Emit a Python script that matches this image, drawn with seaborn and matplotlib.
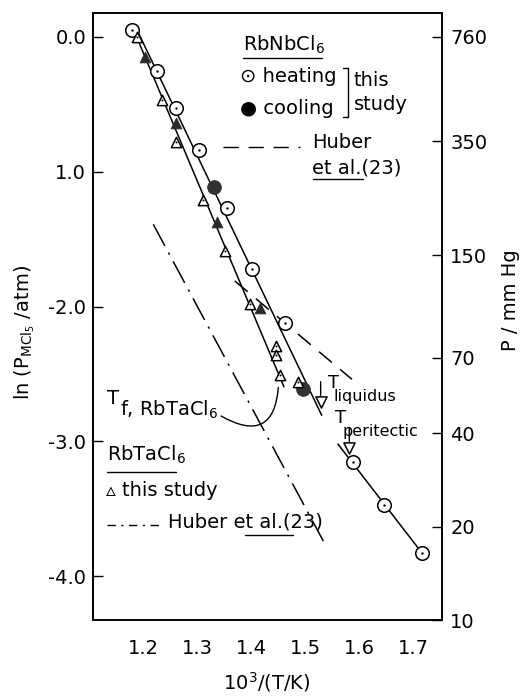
import matplotlib
matplotlib.use("Agg")
import matplotlib.pyplot as plt
from matplotlib.lines import Line2D
import numpy as np
import pandas as pd
import seaborn as sns

# RbNbCl6 heating (open circles)
nb_heat_x = [1.180, 1.225, 1.262, 1.304, 1.356, 1.402, 1.463, 1.588, 1.647, 1.717]
nb_heat_y = [0.05, -0.25, -0.53, -0.84, -1.27, -1.72, -2.12, -3.15, -3.47, -3.83]
# RbNbCl6 cooling (filled circles)
nb_cool_x = [1.331, 1.497]
nb_cool_y = [-1.11, -2.61]
# RbTaCl6 this study (open triangles)
ta_x = [1.189, 1.236, 1.261, 1.312, 1.352, 1.398, 1.446, 1.446, 1.454, 1.487]
ta_y = [0.00, -0.47, -0.78, -1.21, -1.59, -1.98, -2.29, -2.36, -2.51, -2.56]
# RbTaCl6 filled triangles
ta_fill_x = [1.204, 1.261, 1.337, 1.417]
ta_fill_y = [-0.15, -0.64, -1.37, -2.01]
# T liquidus / T peritectic markers
tmark_x = [1.529, 1.582]
tmark_y = [-2.71, -3.05]
tmark_lbl = ['liquidus', 'peritectic']

# drawn lines (end points)
nb_fit_x, nb_fit_y = [1.187, 1.531], [0.067, -2.807]
nb_low_x, nb_low_y = [1.561, 1.717], [-3.02, -3.83]
ta_fit_x, ta_fit_y = [1.185, 1.461], [0.03, -2.595]
huber_nb_x, huber_nb_y = [1.370, 1.587], [-1.81, -2.54]
huber_ta_x, huber_ta_y = [1.219, 1.534], [-1.39, -3.74]

xticks = [1.2, 1.3, 1.4, 1.5, 1.6, 1.7]
yticks = [0, -1, -2, -3, -4]
ytick_lbl = ['0.0', '1.0', '-2.0', '-3.0', '-4.0']
p_mmhg = [760, 350, 150, 70, 40, 20, 10]

W, H = 527, 698
sns.set_theme(style="white")
plt.rcParams['font.family'] = ['DejaVu Sans']
plt.rcParams['mathtext.default'] = 'regular'
for k in ['text.color', 'axes.labelcolor', 'xtick.color', 'ytick.color', 'axes.edgecolor']:
    plt.rcParams[k] = 'black'
FS = 14

fig = plt.figure(figsize=(W / 100, H / 100), dpi=100)
ax = fig.add_axes([93 / W, 1 - 620 / H, (442 - 93) / W, (620 - 13) / H])


def fp(px, py):
    # pixel position -> figure fraction
    return px / W, 1 - py / H


def ftext(px, py, s, **kw):
    x, y = fp(px, py)
    kw.setdefault('fontsize', FS)
    kw.setdefault('va', 'center')
    fig.text(x, y, s, color='black', **kw)


def fline(pxs, pys, **kw):
    xs = [p / W for p in pxs]
    ys = [1 - p / H for p in pys]
    fig.add_artist(Line2D(xs, ys, color='black', lw=1.0, **kw))


lk = dict(color='black', lw=1.1)
sns.lineplot(x=nb_fit_x, y=nb_fit_y, ax=ax, **lk)
sns.lineplot(x=nb_low_x, y=nb_low_y, ax=ax, **lk)
sns.lineplot(x=ta_fit_x, y=ta_fit_y, ax=ax, **lk)
ax.plot(huber_nb_x, huber_nb_y, color='black', lw=1.1, dashes=(11, 7))
ax.plot(huber_ta_x, huber_ta_y, color='black', lw=1.1, dashes=(16, 5, 1.5, 5))

heat = pd.DataFrame({'x': nb_heat_x, 'y': nb_heat_y})
sns.scatterplot(data=heat, x='x', y='y', ax=ax, marker='o', s=95,
                facecolor='white', edgecolor='black', linewidth=1.1, zorder=5)
sns.scatterplot(data=heat, x='x', y='y', ax=ax, marker='o', s=3,
                color='black', linewidth=0, zorder=6)
sns.scatterplot(x=nb_cool_x, y=nb_cool_y, ax=ax, marker='o', s=95,
                color='#333333', edgecolor='#333333', zorder=5)
ta = pd.DataFrame({'x': ta_x, 'y': ta_y})
sns.scatterplot(data=ta, x='x', y='y', ax=ax, marker='^', s=55,
                facecolor='white', edgecolor='black', linewidth=1.1, zorder=5)
sns.scatterplot(data=ta, x='x', y='y', ax=ax, marker='o', s=2,
                color='black', linewidth=0, zorder=6)
sns.scatterplot(x=ta_fill_x, y=ta_fill_y, ax=ax, marker='^', s=60,
                color='#2a2a2a', edgecolor='#2a2a2a', zorder=5)
sns.scatterplot(x=tmark_x, y=tmark_y, ax=ax, marker='v', s=65,
                facecolor='white', edgecolor='black', linewidth=1.1, zorder=5)

# offsets (points) of "T" and of its subscript word for each marker
t_off = [(5, 14), (-10, 22)]
w_off = [(9, 4), (-5, 12)]
for x, y, lbl, to, wo in zip(tmark_x, tmark_y, tmark_lbl, t_off, w_off):
    ax.annotate('', xy=(x, y + 0.05), xytext=(0, 10), textcoords='offset points',
                arrowprops=dict(arrowstyle='-', color='black', lw=1.0,
                                shrinkA=0, shrinkB=0))
    ax.annotate('T', xy=(x, y), xytext=to, textcoords='offset points',
                fontsize=FS - 1, va='center', ha='left')
    ax.annotate(lbl, xy=(x, y), xytext=wo, textcoords='offset points',
                fontsize=FS - 2.5, va='center', ha='left')

# T_f,RbTaCl6 with curved pointer to the triangle
ftext(107, 398, 'T', ha='left')
ftext(120, 410, 'f, RbTaCl$_6$', ha='left')
ax.annotate('', xy=(ta_x[8] - 0.003, ta_y[8] - 0.07),
            xytext=fp(221, 416), textcoords='figure fraction',
            arrowprops=dict(arrowstyle='-', color='black', lw=1.0,
                            connectionstyle='arc3,rad=0.8', shrinkA=0, shrinkB=2))

ax.set_xlim(1.1074, 1.7537)
ax.set_ylim(-4.325, 0.1775)
ax.set_xticks(xticks)
ax.set_xticklabels([f'{v:.1f}' for v in xticks])
ax.set_yticks(yticks)
ax.set_yticklabels(ytick_lbl)
ax.tick_params(direction='in', length=7, width=1.0, labelsize=FS, color='black',
               labelcolor='black')
ax.tick_params(axis='x', pad=14)
ax.tick_params(axis='y', pad=5)
for sp in ax.spines.values():
    sp.set_color('black')
    sp.set_linewidth(1.1)
ax.set_xlabel('')
ax.set_ylabel('')

ax2 = ax.twinx()
ax2.set_ylim(ax.get_ylim())
ax2.set_yticks(np.log(np.array(p_mmhg) / 760.0))
ax2.set_yticklabels([str(p) for p in p_mmhg])
ax2.tick_params(direction='in', length=7, width=1.0, labelsize=FS, pad=6,
                color='black', labelcolor='black')
ax2.grid(False)
ax.grid(False)

# axis titles
ftext(267, 682, '10$^3$/(T/K)', ha='center')
x, y = fp(25, 332)
fig.text(x, y, 'ln (P$_{MCl_5}$ /atm)', rotation=90, ha='center', va='center',
         fontsize=FS, color='black')
x, y = fp(510, 300)
fig.text(x, y, 'P / mm Hg', rotation=90, ha='center', va='center',
         fontsize=FS, color='black')

# upper key
ftext(243, 45, 'RbNbCl$_6$', ha='left')
fline([243, 322], [58, 58])
ftext(240, 76, '\u2299 heating', ha='left')
ftext(240, 108, '\u25cf cooling', ha='left')
fline([343, 348, 348, 343], [68, 68, 117, 117])
ftext(354, 80, 'this', ha='left')
ftext(354, 105, 'study', ha='left')
fline([223, 300], [147, 147], dashes=(11, 7))
ftext(312, 143, 'Huber', ha='left')
ftext(312, 168, 'et al.(23)', ha='left')
fline([313, 363], [179, 179])

# lower key
ftext(107, 455, 'RbTaCl$_6$', ha='left')
fline([107, 176], [472, 472])
ftext(106, 491, '\u25b5 this study', ha='left')
fline([107, 162], [525, 525], dashes=(6, 4, 1.5, 4))
ftext(168, 522, 'Huber et al.(23)', ha='left')
fline([245, 293], [535, 535])

fig.savefig('out.png', dpi=100)
